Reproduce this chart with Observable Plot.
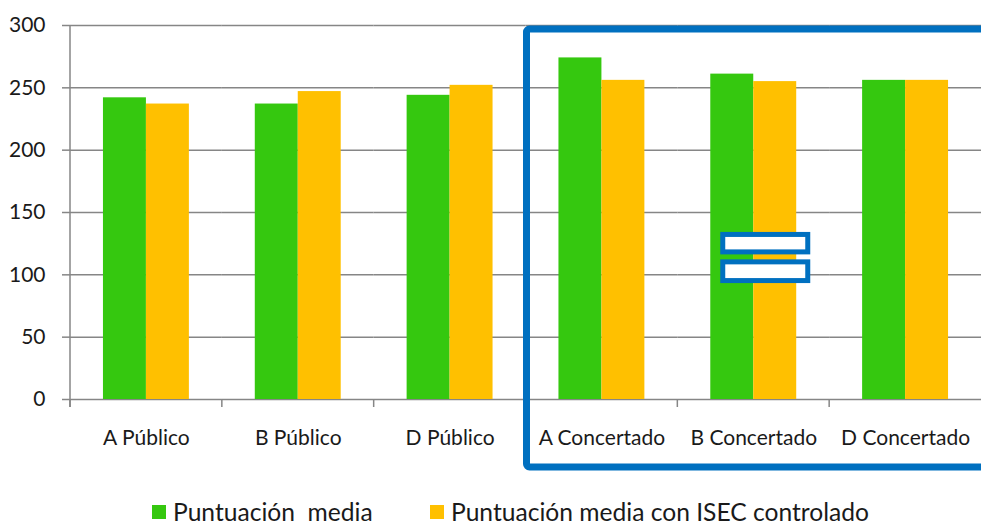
<!DOCTYPE html>
<html>
<head>
<meta charset="utf-8">
<script src="https://cdn.jsdelivr.net/npm/d3@7"></script>
<script src="https://cdn.jsdelivr.net/npm/@observablehq/plot@0.6"></script>
<style>
  html, body { margin: 0; padding: 0; background: #fff; }
  #chart svg { display: block; }
  .legend { position: relative; height: 45px; font-family: Lato, sans-serif; font-size: 24.6px; color: #1a1a1a; }
  .legend .item { position: absolute; top: 18px; display: flex; align-items: center; white-space: pre; line-height: 28px; }
  .legend .sw { width: 14px; height: 14px; margin-right: 7px; display: inline-block; }
</style>
</head>
<body>
<div id="chart"></div>
<div class="legend" id="legend"></div>
<script>
const categories = ["A Público", "B Público", "D Público", "A Concertado", "B Concertado", "D Concertado"];
const seriesNames = ["Puntuación  media", "Puntuación media con ISEC controlado"];
const seriesColors = ["#35C80F", "#FFC000"];
const puntuacionMedia = [242, 237, 244, 274, 261, 256];
const puntuacionISEC = [237, 247, 252, 256, 255, 256];
const yTicks = [0, 50, 100, 150, 200, 250, 300];

const rows = [];
categories.forEach((c, i) => {
  rows.push({category: c, series: seriesNames[0], value: puntuacionMedia[i]});
  rows.push({category: c, series: seriesNames[1], value: puntuacionISEC[i]});
});

const GRID = "#868686";
const TEXT = "#1a1a1a";
const BLUE = "#0070C0";
const W = 981, H = 480;

const chart = Plot.plot({
  width: W,
  height: H,
  marginLeft: 70,
  marginRight: 0,
  marginTop: 25,
  marginBottom: 81,
  style: {fontFamily: "Lato, sans-serif", background: "#fff"},
  fx: {domain: categories, padding: 0, round: false, label: null},
  x: {domain: seriesNames, paddingInner: 0, paddingOuter: 0.767, round: false, axis: null},
  y: {domain: [0, 300], label: null},
  color: {domain: seriesNames, range: seriesColors},
  marks: [
    Plot.gridY(yTicks, {stroke: GRID, strokeOpacity: 1, strokeWidth: 1.5}),
    Plot.barY(rows, {fx: "category", x: "series", y: "value", fill: "series"}),
    Plot.axisY(yTicks, {tickSize: 8, tickPadding: 17, stroke: GRID, strokeOpacity: 1, strokeWidth: 1.5, fontSize: 21, fill: TEXT, label: null}),
    Plot.axisFx({anchor: "bottom", tickSize: 0, tickPadding: 31, fontSize: 21, fill: TEXT, label: null})
  ]
});

document.getElementById("chart").appendChild(chart);

// Extra axis lines, boundary ticks and annotation boxes drawn from Plot's scales
const fx = chart.scale("fx");
const y = chart.scale("y");
const svg = d3.select(chart);
const g = svg.append("g");
const y0 = y.apply(0), yTop = y.apply(300);
const xLeft = fx.apply(categories[0]);

g.append("line").attr("x1", xLeft).attr("x2", xLeft).attr("y1", yTop).attr("y2", y0 + 8)
  .attr("stroke", GRID).attr("stroke-width", 1.5);
categories.forEach(c => {
  const x = fx.apply(c);
  g.append("line").attr("x1", x).attr("x2", x).attr("y1", y0).attr("y2", y0 + 8)
    .attr("stroke", GRID).attr("stroke-width", 1.5);
});

// Blue highlight box around the "Concertado" groups
const bx0 = fx.apply("A Concertado") + 1;
g.append("rect")
  .attr("x", bx0).attr("y", yTop + 4)
  .attr("width", W + 20 - bx0).attr("height", (y0 + 68) - (yTop + 4))
  .attr("rx", 3).attr("fill", "none").attr("stroke", BLUE).attr("stroke-width", 7);

// Equal sign annotation
const cx = fx.apply("B Concertado") + fx.bandwidth / 2 + 12;
[[118, 132], [95, 110]].forEach(([lo, hi]) => {
  g.append("rect")
    .attr("x", cx - 42.5).attr("y", y.apply(hi))
    .attr("width", 85).attr("height", y.apply(lo) - y.apply(hi))
    .attr("fill", "#fff").attr("stroke", BLUE).attr("stroke-width", 5);
});

// Legend
const legend = document.getElementById("legend");
const legendX = [152, 430];
seriesNames.forEach((s, i) => {
  const item = document.createElement("div");
  item.className = "item";
  item.style.left = legendX[i] + "px";
  const sw = document.createElement("span");
  sw.className = "sw";
  sw.style.background = seriesColors[i];
  const t = document.createElement("span");
  t.textContent = s;
  item.appendChild(sw);
  item.appendChild(t);
  legend.appendChild(item);
});
</script>
</body>
</html>
